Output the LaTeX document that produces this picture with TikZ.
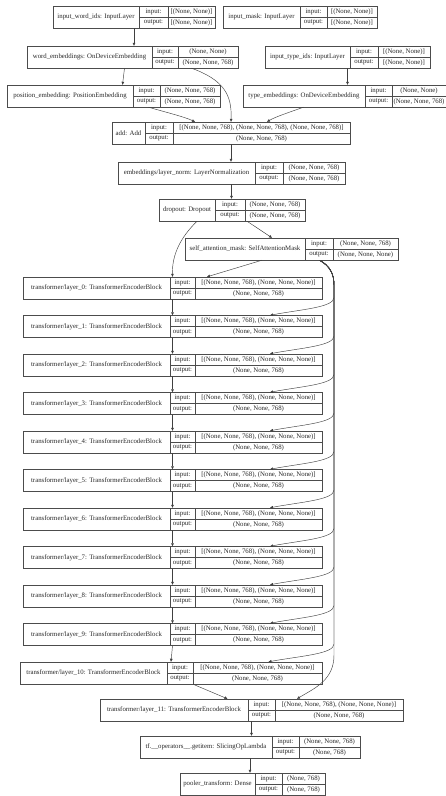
\documentclass[tikz,border=0pt]{standalone}
\usepackage{fontspec}
\setmainfont{Liberation Serif}
\usetikzlibrary{fit,arrows.meta}
\tikzset{
  recline/.style={draw=black!70, line width=0.45pt},
  rectext/.style={font=\fontsize{6.8}{7.5}\selectfont, inner sep=0pt, text=black!85},
  link/.style={draw=black!75, line width=0.45pt, -{Triangle[length=3pt,width=2.6pt]}},
}
% record box: #1 name, #2 left, #3 end of title cell, #4 end of port cell,
% #5 right, #6 top, #7 title, #8 input shape, #9 output shape
\newcommand{\layerrec}[9]{%
  \draw[recline] (#2,#6) rectangle (#5,#6+22);
  \draw[recline] (#3,#6) -- (#3,#6+22) (#4,#6) -- (#4,#6+22) (#3,#6+11) -- (#5,#6+11);
  \node[rectext] at ({(#2+#3)/2},#6+11) {#7};
  \node[rectext] at ({(#3+#4)/2},#6+5.5) {input:};
  \node[rectext] at ({(#3+#4)/2},#6+16.5) {output:};
  \node[rectext] at ({(#4+#5)/2},#6+5.5) {#8};
  \node[rectext] at ({(#4+#5)/2},#6+16.5) {#9};
  \node[fit={(#2,#6) (#5,#6+22)}, inner sep=0pt] (#1) {};
}
\begin{document}
\begin{tikzpicture}[x=1pt, y=-1pt]
\useasboundingbox (0,0) rectangle (446,796);

% inputs and embeddings
\layerrec{iw}{53}{139}{168}{215}{6}{input\_word\_ids: InputLayer}{[(None, None)]}{[(None, None)]}
\layerrec{im}{223}{300}{327}{377}{6}{input\_mask: InputLayer}{[(None, None)]}{[(None, None)]}
\layerrec{we}{27}{152}{178}{238}{46}{word\_embeddings: OnDeviceEmbedding}{(None, None)}{(None, None, 768)}
\layerrec{it}{265}{350}{378}{430}{46}{input\_type\_ids: InputLayer}{[(None, None)]}{[(None, None)]}
\layerrec{pe}{7}{133}{160}{220}{85}{position\_embedding: PositionEmbedding}{(None, None, 768)}{(None, None, 768)}
\layerrec{te}{243}{365}{392}{446}{85}{type\_embeddings: OnDeviceEmbedding}{(None, None)}{(None, None, 768)}
\layerrec{add}{112}{145}{173}{350}{122}{add: Add}{[(None, None, 768), (None, None, 768), (None, None, 768)]}{(None, None, 768)}
\layerrec{ln}{118}{255}{283}{345}{162}{embeddings/layer\_norm: LayerNormalization}{(None, None, 768)}{(None, None, 768)}
\layerrec{do}{159}{215}{245}{305}{199}{dropout: Dropout}{(None, None, 768)}{(None, None, 768)}
\layerrec{sam}{185}{305}{333}{398}{238}{self\_attention\_mask: SelfAttentionMask}{(None, None, 768)}{(None, None, None)}

% encoder stack
\foreach \k in {0,...,10}{
  \pgfmathsetmacro\ty{277+38.5*\k}
  \ifnum\k=10
    \layerrec{l\k}{20}{167}{193}{322}{\ty}{transformer/layer\_\k: TransformerEncoderBlock}{[(None, None, 768), (None, None, None)]}{(None, None, 768)}
  \else
    \layerrec{l\k}{23}{170}{195}{322}{\ty}{transformer/layer\_\k: TransformerEncoderBlock}{[(None, None, 768), (None, None, None)]}{(None, None, 768)}
  \fi
}
\layerrec{l11}{100}{248}{275}{403}{699}{transformer/layer\_11: TransformerEncoderBlock}{[(None, None, 768), (None, None, None)]}{(None, None, 768)}
\layerrec{gi}{140}{272}{299}{360}{736}{tf.\_\_operators\_\_.getitem: SlicingOpLambda}{(None, None, 768)}{(None, 768)}
\layerrec{po}{180}{255}{282}{325}{773}{pooler\_transform: Dense}{(None, 768)}{(None, 768)}

% connections
\draw[link] (iw.south) -- (iw.south |- we.north);
\draw[link] (it.south) -- (it.south |- te.north);
\draw[link] ([xshift=-8pt]we.south) -- ([xshift=9pt]pe.north);
\draw[link] ([xshift=59pt]we.south) .. controls (224,80) and (232,95) .. (add.north);
\draw[link] ([xshift=35pt]pe.south) .. controls (165,112) and (185,117) .. ([xshift=-36pt]add.north);
\draw[link] ([xshift=-41pt]te.south) .. controls (290,112) and (275,117) .. ([xshift=36pt]add.north);
\draw[link] (add.south) -- (add.south |- ln.north);
\draw[link] (ln.south) -- (ln.south |- do.north);
\draw[link] ([xshift=15pt]do.south) -- ([xshift=-19.5pt]sam.north);
\draw[link] ([xshift=-35pt]do.south) .. controls (180,238) and (172,255) .. (l0.north);
\draw[link] ([xshift=-29.5pt]sam.south) -- ([xshift=34.5pt]l0.north);

% attention mask fan-out to the deeper blocks
\foreach \k in {1,...,10}{
  \pgfmathsetmacro\ty{277+38.5*\k}
  \draw[link] ([xshift=28pt]sam.south) .. controls (330,266) and (334,274) .. (334,285)
    -- (334,\ty-18) .. controls (334,\ty-8) and (300,\ty-6) .. ([xshift=97.5pt]l\k.north);
}
\draw[link] ([xshift=28pt]sam.south) .. controls (330,266) and (334,274) .. (334,285)
  -- (334,655) .. controls (334,680) and (315,688) .. ([xshift=45.5pt]l11.north);

% residual stream
\foreach \k [evaluate=\k as \n using int(\k+1)] in {0,...,9}{
  \draw[link] (l\k.south) -- (l\n.north);
}
\draw[link] ([xshift=22pt]l10.south) -- ([xshift=-24pt]l11.north);
\draw[link] (l11.south) -- (l11.south |- gi.north);
\draw[link] (gi.south) -- (gi.south |- po.north);
\end{tikzpicture}
\end{document}
